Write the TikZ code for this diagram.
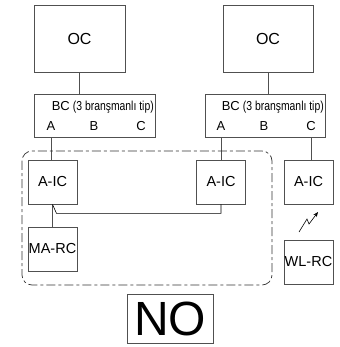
\documentclass[tikz,border=0pt]{standalone}
\usepackage{fontspec}
\setmainfont{Liberation Sans}
\usetikzlibrary{arrows.meta,calc}
\definecolor{FrameGray}{RGB}{80,80,80}
\tikzset{
  unitbox/.style={draw=FrameGray,line width=0.8pt,inner sep=0pt,
    minimum width=49pt,minimum height=44pt,font=\fontsize{14.5}{16}\selectfont},
  portlbl/.style={inner sep=0pt,font=\fontsize{13}{15}\selectfont},
  wire/.style={draw=FrameGray,line width=0.8pt},
}

\begin{document}
\begin{tikzpicture}[x=1pt,y=-1pt]
\useasboundingbox (0,0) rectangle (339,347);
% outdoor units and branch controllers
\node[unitbox,minimum width=91pt,minimum height=67pt,font=\fontsize{16}{18}\selectfont] (ocL) at (79.5,38.5) {OC};
\node[unitbox,minimum width=90pt,minimum height=67pt,font=\fontsize{16}{18}\selectfont] (ocR) at (268,38.5) {OC};
\node[unitbox,minimum width=121pt,minimum height=43pt] (bcL) at (94.5,115.5) {};
\node[unitbox,minimum width=120pt,minimum height=43pt] (bcR) at (265,115.5) {};
\node[portlbl,anchor=east] (bcLt) at (154,107) {BC\hspace{3pt}\scalebox{0.8}[1]{(3 branşmanlı tip)}};
\node[portlbl,anchor=east] (bcRt) at (324,107) {BC\hspace{3pt}\scalebox{0.8}[1]{(3 branşmanlı tip)}};
\foreach \p/\x in {A/51,B/94,C/141}{
  \node[portlbl] (bcL\p) at (\x,126) {\p};
  \node[portlbl] (bcR\p) at (\x+170,126) {\p};
}

% indoor units and remotes
\node[unitbox] (icL) at (52.5,182) {A-IC};
\node[unitbox] (icM) at (221,182) {A-IC};
\node[unitbox] (icR) at (308.5,182) {A-IC};
\node[unitbox] (marc) at (52.5,249) {MA-RC};
\node[unitbox] (wlrc) at (308.5,262) {WL-RC};

\draw[wire] (ocL.south) -- (ocL.south |- bcL.north);
\draw[wire] (ocR.south) -- (ocR.south |- bcR.north);
\draw[wire] (bcLA |- bcL.south) -- (bcLA |- icL.north);
\draw[wire] (bcRA |- bcR.south) -- (bcRA |- icM.north);
\draw[wire] (bcRC |- bcR.south) -- (bcRC |- icR.north);
\draw[wire] (icL.south) -- (marc.north);
\draw[line width=0.6pt] (icL.south) -- ++(4,9) -| (icM.south);

% wireless link
\coordinate (wlA) at (299,232);
\coordinate (wlB) at (318,212);
\draw[line width=0.6pt,-{Stealth[length=5pt,width=4pt]}] (wlA) -- ++(8,-13) -- ++(2,5) -- (wlB);

% group frame
\draw[black!80,line width=0.7pt,rounded corners=10pt,dash pattern=on 9pt off 3pt on 3pt off 3pt]
  (22,151) rectangle (272,285);

\node[draw=FrameGray,line width=0.8pt,inner sep=0pt,minimum width=86pt,minimum height=49pt,
  font=\fontsize{48}{52}\selectfont] (nobox) at (170,318.5) {NO};
\end{tikzpicture}
\end{document}
